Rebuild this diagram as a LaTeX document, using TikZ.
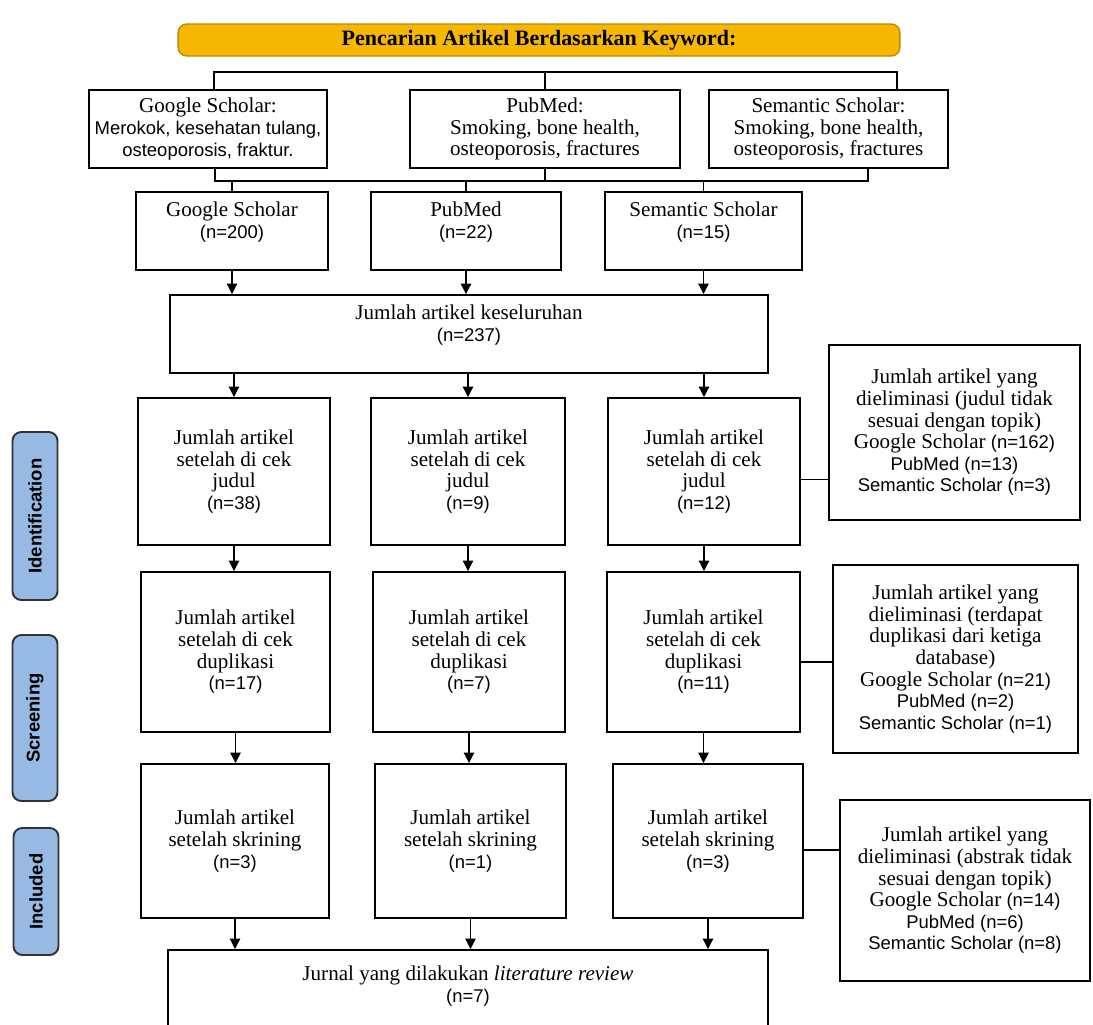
\documentclass[tikz,border=0pt]{standalone}
\usepackage{fontspec}
\setmainfont{Liberation Serif}
\setsansfont{Liberation Sans}
\usepackage{xcolor}
\usepackage{tikz}
\usetikzlibrary{arrows.meta}

\definecolor{kwgold}{RGB}{245,183,0}
\definecolor{kwedge}{RGB}{190,138,0}
\definecolor{stageblue}{RGB}{150,186,228}
\newcommand{\nsans}[1]{{\sffamily\fontsize{10.5}{12.3}\selectfont #1}}

\begin{document}
\begin{tikzpicture}[x=0.02cm,y=-0.02cm,
  box/.style={draw,line width=1.1pt,align=center,font=\fontsize{12}{12.3}\selectfont},
  stage/.style={draw=black!80,fill=stageblue,rounded corners=5pt,line width=1.1pt,
    rotate=90,minimum height=0.9cm,font=\sffamily\bfseries\fontsize{10.5}{12}\selectfont},
  line/.style={line width=0.6pt},
  arr/.style={line width=0.6pt,-{Triangle[width=6pt,length=6pt]}}]
\path[use as bounding box,clip] (0,0) rectangle (1093,1025);

% header and keyword boxes
\node[draw=kwedge,fill=kwgold,rounded corners=5pt,line width=0.8pt,minimum width=14.44cm,
  minimum height=0.64cm,font=\bfseries\fontsize{12.5}{14}\selectfont] (head) at (539,40)
  {Pencarian Artikel Berdasarkan Keyword:};
\node[box,minimum width=4.4cm,minimum height=1.56cm]  (kwG) at (208,129)
  {Google Scholar:\\\nsans{Merokok, kesehatan tulang,}\\\nsans{osteoporosis, fraktur.}};
\node[box,minimum width=5.4cm,minimum height=1.56cm]  (kwP) at (545,129)
  {PubMed:\\Smoking, bone health,\\osteoporosis, fractures};
\node[box,minimum width=4.78cm,minimum height=1.56cm] (kwS) at (828.5,129)
  {Semantic Scholar:\\Smoking, bone health,\\osteoporosis, fractures};

% hits per database
\node[box,minimum width=3.84cm,minimum height=1.56cm] (nG) at (232,231)
  {Google Scholar\\\nsans{(n=200)}\\\mbox{}};
\node[box,minimum width=3.8cm,minimum height=1.56cm]  (nP) at (466,231)
  {PubMed\\\nsans{(n=22)}\\\mbox{}};
\node[box,minimum width=3.94cm,minimum height=1.56cm] (nS) at (703.5,231)
  {Semantic Scholar\\\nsans{(n=15)}\\\mbox{}};
\node[box,minimum width=11.96cm,minimum height=1.56cm] (total) at (469,334)
  {Jumlah artikel keseluruhan\\\nsans{(n=237)}\\\mbox{}};

% title check
\node[box,minimum width=3.84cm,minimum height=2.94cm] (jG) at (234,471.5)
  {Jumlah artikel\\setelah di cek\\judul\\\nsans{(n=38)}};
\node[box,minimum width=3.88cm,minimum height=2.94cm] (jP) at (468,471.5)
  {Jumlah artikel\\setelah di cek\\judul\\\nsans{(n=9)}};
\node[box,minimum width=3.84cm,minimum height=2.94cm] (jS) at (704,471.5)
  {Jumlah artikel\\setelah di cek\\judul\\\nsans{(n=12)}};

% duplicate check
\node[box,minimum width=3.78cm,minimum height=3.2cm] (dG) at (235.5,652)
  {Jumlah artikel\\setelah di cek\\duplikasi\\\nsans{(n=17)}};
\node[box,minimum width=3.84cm,minimum height=3.2cm] (dP) at (469,652)
  {Jumlah artikel\\setelah di cek\\duplikasi\\\nsans{(n=7)}};
\node[box,minimum width=3.86cm,minimum height=3.2cm] (dS) at (703.5,652)
  {Jumlah artikel\\setelah di cek\\duplikasi\\\nsans{(n=11)}};

% screening
\node[box,minimum width=3.76cm,minimum height=3.08cm] (sG) at (235,841)
  {Jumlah artikel\\setelah skrining\\\nsans{(n=3)}};
\node[box,minimum width=3.82cm,minimum height=3.08cm] (sP) at (470.5,841)
  {Jumlah artikel\\setelah skrining\\\nsans{(n=1)}};
\node[box,minimum width=3.8cm,minimum height=3.08cm]  (sS) at (708,841)
  {Jumlah artikel\\setelah skrining\\\nsans{(n=3)}};

\node[box,minimum width=12cm,minimum height=1.8cm] (final) at (468,995)
  {Jurnal yang dilakukan \textit{literature review}\\\nsans{(n=7)}\\\mbox{}};

% eliminated articles
\node[box,minimum width=5.02cm,minimum height=3.5cm] (elimJ) at (954.5,432.5)
  {Jumlah artikel yang\\dieliminasi (judul tidak\\sesuai dengan topik)\\
   Google Scholar \nsans{(n=162)}\\\nsans{PubMed (n=13)}\\\nsans{Semantic Scholar (n=3)}};
\node[box,minimum width=4.9cm,minimum height=3.76cm] (elimD) at (955.5,659)
  {Jumlah artikel yang\\dieliminasi (terdapat\\duplikasi dari ketiga\\database)\\
   Google Scholar \nsans{(n=21)}\\\nsans{PubMed (n=2)}\\\nsans{Semantic Scholar (n=1)}};
\node[box,minimum width=5cm,minimum height=3.62cm] (elimA) at (965,890.5)
  {Jumlah artikel yang\\dieliminasi (abstrak tidak\\sesuai dengan topik)\\
   Google Scholar \nsans{(n=14)}\\\nsans{PubMed (n=6)}\\\nsans{Semantic Scholar (n=8)}};

% stage labels
\node[stage,minimum width=3.36cm] (idLbl)  at (35,516)   {Identification};
\node[stage,minimum width=3.32cm] (scrLbl) at (35,718)   {Screening};
\node[stage,minimum width=2.54cm] (incLbl) at (36,891.5) {Included};

% connectors
\coordinate (tl) at (214,72);
\coordinate (tr) at (897,72);
\coordinate (bl) at (215,181);
\coordinate (br) at (868,181);
\draw[line] (kwG.north -| tl) -- (tl) -- (tr) -- (kwS.north -| tr);
\draw[line] (kwP.north) -- (kwP.north |- tl);
\draw[line] (kwG.south -| bl) -- (bl) -- (br) -- (kwS.south -| br);
\draw[line] (kwP.south) -- (kwP.south |- bl);
\foreach \n in {nG,nP,nS}
  \draw[line] (\n.north) -- (\n.north |- bl);

\foreach \n in {nG,nP,nS}
  \draw[arr] (\n.south) -- (\n.south |- total.north);
\foreach \n in {jG,jP,jS}
  \draw[arr] (\n.north |- total.south) -- (\n.north);
\foreach \a/\b in {jG/dG,jP/dP,jS/dS,dG/sG,dP/sP,dS/sS}
  \draw[arr] (\a.south) -- (\a.south |- \b.north);
\foreach \n in {sG,sP,sS}
  \draw[arr] (\n.south) -- (\n.south |- final.north);

\draw[line] ([yshift=-0.16cm]jS.east) -- ([yshift=-0.16cm]jS.east -| elimJ.west);
\draw[line] ([yshift=-0.2cm]dS.east) -- ([yshift=-0.2cm]dS.east -| elimD.west);
\draw[line] ([yshift=-0.18cm]sS.east) -- ([yshift=-0.18cm]sS.east -| elimA.west);
\end{tikzpicture}
\end{document}
